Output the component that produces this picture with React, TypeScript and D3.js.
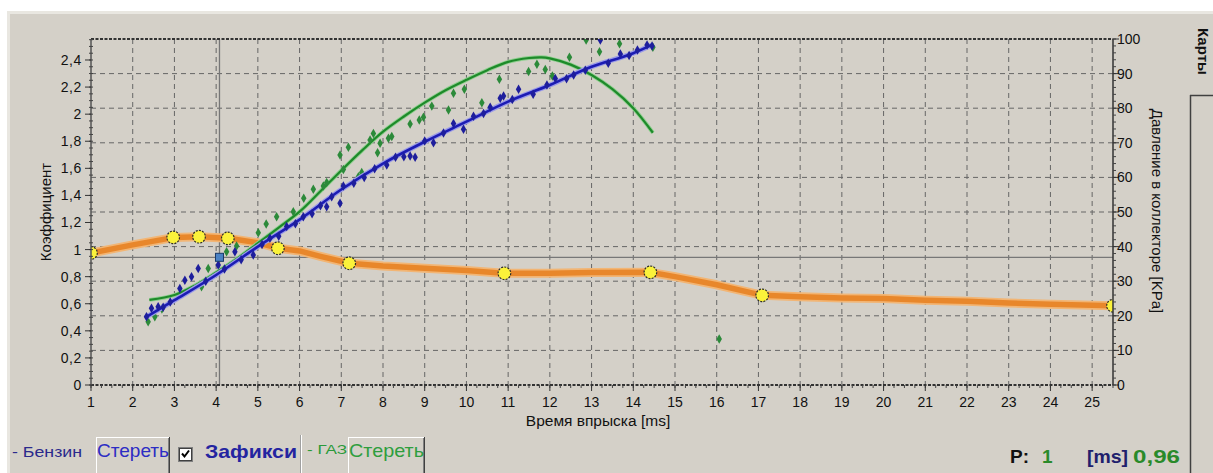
import React from 'react';
import * as d3 from 'd3';

// axis ticks
const xTicks = d3.range(1, 26);
const leftTicks = [0, 0.2, 0.4, 0.6, 0.8, 1, 1.2, 1.4, 1.6, 1.8, 2, 2.2, 2.4];
const leftLabels = ['0', '0,2', '0,4', '0,6', '0,8', '1', '1,2', '1,4', '1,6', '1,8', '2', '2,2', '2,4'];
const rightTicks = [0, 10, 20, 30, 40, 50, 60, 70, 80, 90, 100];

// coefficient curve (left axis) [time ms, coef]
const coefLine: [number, number][] = [
  [1, 0.975], [2, 1.035], [3, 1.09], [3.6, 1.095], [4.3, 1.083], [5, 1.05], [5.5, 1.01],
  [6, 0.99], [6.5, 0.95], [7.2, 0.899], [8, 0.879], [9, 0.862], [10, 0.845], [10.9, 0.825],
  [12, 0.825], [13, 0.83], [14.4, 0.832], [15, 0.8], [16, 0.74], [17.1, 0.662], [18, 0.652],
  [19, 0.642], [20, 0.638], [21, 0.625], [22, 0.618], [23, 0.605], [24, 0.597], [25, 0.588], [25.5, 0.585],
];
const coefPoints: [number, number][] = [
  [1, 0.975], [2.97, 1.09], [3.59, 1.095], [4.28, 1.083], [5.48, 1.01], [7.19, 0.899],
  [10.91, 0.825], [14.41, 0.832], [17.09, 0.662], [25.5, 0.585],
];

// pressure fits (right axis) [time ms, kPa]
const petrolFit: [number, number][] = [
  [2.3, 19.5], [3, 24.5], [4, 31.8], [5, 40], [6, 47.8], [7, 56.5], [8, 64], [9, 70.3],
  [10, 76.1], [11, 81.9], [12, 86.7], [13, 92], [14, 95.9], [14.45, 98.3],
];
const gasFit: [number, number][] = [
  [2.4, 24.6], [3, 26], [3.5, 28.8], [4, 32.5], [4.5, 36.5], [5, 41], [5.5, 45.5], [6, 50.1],
  [6.5, 56], [7, 62], [7.5, 67.8], [8, 73.2], [8.5, 77.6], [9, 81.6], [9.5, 85.2], [10, 88.2],
  [10.5, 91], [11, 93.4], [11.5, 94.5], [11.8, 94.7], [12, 94.4], [12.5, 92.6], [13, 89.6],
  [13.5, 85.5], [14, 80], [14.47, 72.9],
];

// measured points
const petrolPoints: [number, number][] = [
  [2.33, 19.7], [2.45, 22.2], [2.61, 22.6], [2.73, 22.5], [2.9, 24.0], [3.13, 27.9], [3.25, 30.3],
  [3.41, 31.3], [3.57, 33.7], [3.75, 30.0], [4.05, 34.7], [4.2, 33.5], [4.45, 38.5], [4.6, 36.2],
  [4.89, 37.6], [5.1, 40.6], [5.29, 42.4], [5.5, 43.0], [5.69, 45.8], [5.9, 46.6], [6.09, 48.6],
  [6.3, 49.5], [6.5, 51.8], [6.65, 51.5], [6.77, 54.4], [6.97, 52.5], [7.05, 57.5], [7.3, 58.3],
  [7.55, 60.0], [7.8, 62.5], [8.09, 63.6], [8.3, 65.8], [8.5, 66.0], [8.65, 66.2], [8.77, 65.8],
  [9.0, 70.5], [9.21, 70.0], [9.45, 72.8], [9.69, 75.6], [9.93, 73.9], [10.17, 77.7], [10.41, 78.5],
  [10.57, 80.3], [10.81, 82.9], [10.89, 83.5], [11.1, 82.5], [11.25, 85.5], [11.6, 84.0],
  [11.93, 86.7], [12.13, 88.6], [12.4, 88.5], [12.57, 89.6], [12.85, 91.0], [13.21, 99.7],
  [13.4, 93.0], [13.69, 95.7], [13.9, 95.2], [14.1, 96.8], [14.33, 98.3], [14.45, 98.0],
];
const gasPoints: [number, number][] = [
  [2.37, 18.3], [2.53, 19.7], [2.7, 22.0], [3.65, 28.4], [3.81, 33.7], [4.25, 38.5], [4.49, 40.2],
  [5.01, 44], [5.2, 46.5], [5.45, 48.6], [5.85, 50.1], [6.1, 54.0], [6.33, 56.6], [6.57, 57.5],
  [6.65, 58.5], [6.97, 66.5], [7.05, 62.3], [7.17, 68.7], [7.41, 60.2], [7.49, 61.4], [7.69, 70.8],
  [7.77, 72.7], [7.87, 67.1], [7.93, 69.9], [8.13, 71.3], [8.21, 71.8], [8.65, 75.4], [8.87, 76.6],
  [8.97, 77.4], [9.17, 80.6], [9.57, 79.5], [9.69, 84.3], [9.95, 85.5], [10.37, 81.6], [10.79, 88.4],
  [11.49, 90.6], [11.69, 92.7], [11.89, 91.2], [12.06, 89.3], [12.47, 94.7], [12.87, 99.7],
  [13.19, 96.3], [13.67, 98.6], [14.47, 97.6], [16.06, 13.3],
];

const cursorTime = 4.08;
const cursorCoef = 0.943;

const FONT = '"Liberation Sans", Arial, sans-serif';
const BG = '#d4d0c8';

export default function App() {
  const left = 91, right = 1113, top = 39, bottom = 385;
  const x = d3.scaleLinear().domain([1, 25.5]).range([left, right]);
  const yL = d3.scaleLinear().domain([0, 2.555]).range([bottom, top]);
  const yR = d3.scaleLinear().domain([0, 100]).range([bottom, top]);

  const coefPath = d3.line<[number, number]>().x(d => x(d[0])).y(d => yL(d[1]))(coefLine) || '';
  const petrolPath = d3.line<[number, number]>().x(d => x(d[0])).y(d => yR(d[1])).curve(d3.curveMonotoneX)(petrolFit) || '';
  const gasPath = d3.line<[number, number]>().x(d => x(d[0])).y(d => yR(d[1])).curve(d3.curveCatmullRom)(gasFit) || '';
  const diamond = d3.symbol(d3.symbolDiamond, 26)() || '';

  const minorLeft = d3.range(0, 2.56, 0.05);
  const minorBottom = d3.range(1, 25.51, 0.25);
  const minorRight = d3.range(0, 100.1, 2);

  const button = (bx: number, bw: number, label: string, color: string) => (
    <g>
      <rect x={bx} y={437} width={bw} height={40} fill={BG} />
      <line x1={bx} y1={437.5} x2={bx + bw} y2={437.5} stroke="#fff" />
      <line x1={bx + 0.5} y1={437} x2={bx + 0.5} y2={473} stroke="#fff" />
      <line x1={bx + bw - 0.5} y1={437} x2={bx + bw - 0.5} y2={473} stroke="#404040" />
      <line x1={bx + bw - 1.5} y1={438} x2={bx + bw - 1.5} y2={473} stroke="#808080" />
      <text x={bx + 1} y={457} fontSize={19} fill={color} textLength={bw - 2} lengthAdjust="spacingAndGlyphs">{label}</text>
    </g>
  );

  return (
    <div style={{ position: 'absolute', left: 0, top: 0 }}>
      <svg width={1213} height={473} style={{ display: 'block', fontFamily: FONT }}>
        <defs>
          <clipPath id="plot">
            <rect x={left} y={top} width={right - left} height={bottom - top} />
          </clipPath>
        </defs>
        <rect x={0} y={0} width={1213} height={473} fill="#fff" />
        <rect x={7} y={11} width={1206} height={462} fill="#e9e7e1" />
        <rect x={10} y={14} width={1203} height={459} fill={BG} />

        {/* grid */}
        {xTicks.slice(1).map(t => (
          <line key={'gx' + t} x1={x(t)} x2={x(t)} y1={top} y2={bottom} stroke="#666" strokeDasharray="5,4" />
        ))}
        {rightTicks.slice(1, -1).map(v => (
          <line key={'gy' + v} x1={left} x2={right} y1={yR(v)} y2={yR(v)} stroke="#666" strokeDasharray="5,4" />
        ))}

        {/* cursor */}
        <line x1={left} x2={right} y1={yL(cursorCoef)} y2={yL(cursorCoef)} stroke="#777" strokeWidth={1.3} />
        <line x1={x(cursorTime)} x2={x(cursorTime)} y1={top} y2={bottom} stroke="#777" strokeWidth={1.3} />

        <g clipPath="url(#plot)">
          {/* coefficient line */}
          <path d={coefPath} fill="none" stroke="#f2b574" strokeWidth={9} strokeLinejoin="round" />
          <path d={coefPath} fill="none" stroke="#e8872b" strokeWidth={5.5} strokeLinejoin="round" />

          {/* gas */}
          <path d={gasPath} fill="none" stroke="#8fd08f" strokeWidth={4} />
          <path d={gasPath} fill="none" stroke="#1e8a2a" strokeWidth={2.2} />
          {gasPoints.map((p, i) => (
            <path key={'gp' + i} d={diamond} transform={`translate(${x(p[0])},${yR(p[1])})`} fill="#2c8a3a" />
          ))}

          {/* petrol */}
          <path d={petrolPath} fill="none" stroke="#9a9ae8" strokeWidth={5} />
          <path d={petrolPath} fill="none" stroke="#1c1cb4" strokeWidth={2.6} />
          {petrolPoints.map((p, i) => (
            <path key={'pp' + i} d={diamond} transform={`translate(${x(p[0])},${yR(p[1])})`} fill="#1e1e9c" />
          ))}

          {coefPoints.map((p, i) => (
            <circle key={'cp' + i} cx={x(p[0])} cy={yL(p[1])} r={6.3} fill="#fbf23a" stroke="#2a2a2a" strokeWidth={1.2} strokeDasharray="2,1.2" />
          ))}
        </g>

        {/* cursor marker */}
        <rect x={x(cursorTime) - 4} y={yL(cursorCoef) - 4} width={8} height={8} fill="#4a82c4" stroke="#1a3a6a" />

        {/* borders */}
        <line x1={left} x2={right} y1={top} y2={top} stroke="#333" strokeWidth={2} strokeDasharray="3,1.5" />
        <line x1={left} x2={right} y1={bottom} y2={bottom} stroke="#333" strokeWidth={2} strokeDasharray="3,1.5" />
        <line x1={left} x2={left} y1={top} y2={bottom} stroke="#555" strokeWidth={1.5} />
        <line x1={right} x2={right} y1={top} y2={bottom} stroke="#333" strokeWidth={1.5} />

        {/* left axis */}
        {minorLeft.map((v, i) => (
          <line key={'ml' + i} x1={left - 2} x2={left + 2} y1={yL(v)} y2={yL(v)} stroke="#444" />
        ))}
        {leftTicks.map((v, i) => (
          <g key={'lt' + i}>
            <line x1={left - 6} x2={left} y1={yL(v)} y2={yL(v)} stroke="#333" />
            <text x={82} y={yL(v) + 5} fontSize={14} textAnchor="end" fill="#111" letterSpacing={0.6}>{leftLabels[i]}</text>
          </g>
        ))}
        <text transform={`translate(51,212) rotate(-90)`} fontSize={15} textAnchor="middle" fill="#111">Коэффициент</text>

        {/* bottom axis */}
        {minorBottom.map((v, i) => (
          <line key={'mb' + i} x1={x(v)} x2={x(v)} y1={bottom} y2={bottom + 3} stroke="#444" />
        ))}
        {xTicks.map(t => (
          <g key={'xt' + t}>
            <line x1={x(t)} x2={x(t)} y1={bottom} y2={bottom + 6} stroke="#333" />
            <text x={x(t)} y={407} fontSize={14} textAnchor="middle" fill="#111">{t}</text>
          </g>
        ))}
        <text x={598} y={426} fontSize={15.5} textAnchor="middle" fill="#111">Время впрыска [ms]</text>

        {/* right axis */}
        {minorRight.map((v, i) => (
          <line key={'mr' + i} x1={right} x2={right + 3} y1={yR(v)} y2={yR(v)} stroke="#444" />
        ))}
        {rightTicks.map(v => (
          <g key={'rt' + v}>
            <line x1={right} x2={right + 6} y1={yR(v)} y2={yR(v)} stroke="#333" />
            <text x={1117} y={yR(v) + 5} fontSize={14} fill="#111">{v}</text>
          </g>
        ))}
        <text transform={`translate(1152,211) rotate(90)`} fontSize={15} textAnchor="middle" fill="#111">Давление в коллекторе [KPa]</text>

        {/* side tab */}
        <text transform={`translate(1198,28) rotate(90)`} fontSize={15} fontWeight="bold" fill="#111">Карты</text>
        <line x1={1190.5} x2={1190.5} y1={95} y2={473} stroke="#404040" strokeWidth={1.5} />
        <line x1={1190} x2={1213} y1={95.5} y2={95.5} stroke="#404040" strokeWidth={1.5} />

        {/* bottom controls */}
        <text x={12} y={457} fontSize={15} fill="#2a2a8c" textLength={70} lengthAdjust="spacingAndGlyphs">- Бензин</text>
        {button(96, 74, 'Стереть', '#2c2cc4')}
        <rect x={178.5} y={447.5} width={14} height={14} fill="#fff" stroke="#808080" />
        <rect x={179.5} y={448.5} width={12} height={12} fill="none" stroke="#404040" />
        <path d="M182,453.5 L184.5,456.5 L189,450.5" fill="none" stroke="#000" strokeWidth={2} />
        <text x={205} y={458} fontSize={19} fontWeight="bold" fill="#2424a0" textLength={92} lengthAdjust="spacingAndGlyphs">Зафикси</text>
        <line x1={300.5} x2={300.5} y1={435} y2={473} stroke="#a0a0a0" />
        <line x1={301.5} x2={301.5} y1={435} y2={473} stroke="#fff" />
        <text x={307} y={454} fontSize={13} fill="#2a9a3a" textLength={40} lengthAdjust="spacingAndGlyphs">- ГАЗ</text>
        {button(348, 77, 'Стереть', '#2e9e3e')}

        <text x={1010} y={463} fontSize={19} fontWeight="bold" fill="#111">P:</text>
        <text x={1042} y={463} fontSize={19} fontWeight="bold" fill="#2a8a2a">1</text>
        <text x={1087} y={463} fontSize={19} fontWeight="bold" fill="#20206c" textLength={41} lengthAdjust="spacingAndGlyphs">[ms]</text>
        <text x={1133} y={463} fontSize={19} fontWeight="bold" fill="#2a8a2a" textLength={47} lengthAdjust="spacingAndGlyphs">0,96</text>
      </svg>
    </div>
  );
}
